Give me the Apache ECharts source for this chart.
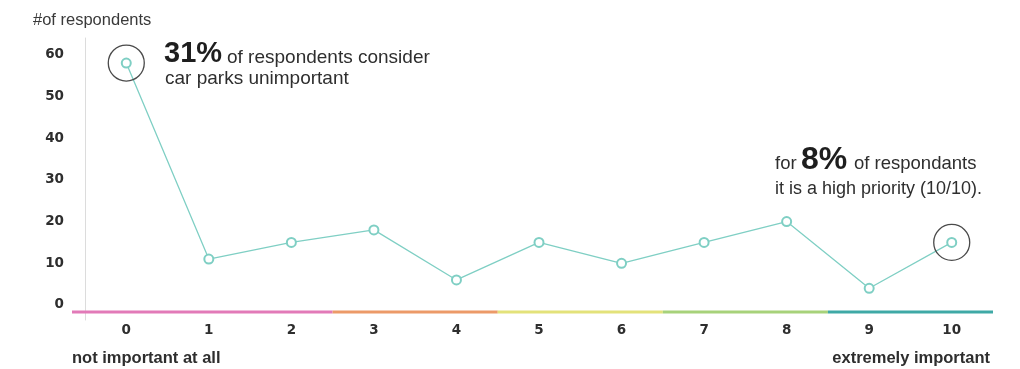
<!DOCTYPE html>
<html>
<head>
<meta charset="utf-8">
<script src="https://cdn.jsdelivr.net/npm/echarts@6/dist/echarts.min.js"></script>
<style>
  html, body { margin: 0; padding: 0; background: #fff; }
  #chart { width: 1020px; height: 369px; }
</style>
</head>
<body>
<div id="chart"></div>
<script>
// Importance ratings (0 = not important at all, 10 = extremely important)
const categories = ['0', '1', '2', '3', '4', '5', '6', '7', '8', '9', '10'];
const respondents = [58, 11, 15, 18, 6, 15, 10, 15, 20, 4, 15];
const yTicks = [0, 10, 20, 30, 40, 50, 60];
// Coloured scale bands under the axis: [first rating, last rating]
const bandRanges = [[0, 2], [3, 4], [5, 6], [7, 8], [9, 10]];
const bandColors = ['#e27ab8', '#ec9a68', '#e3e27a', '#a7d27a', '#3fa9a6'];
// Ratings that get a highlight ring
const highlighted = [0, 10];

const textColor = '#2e2e2e';
const lineColor = '#7fcfc4';
const bodyFont = '18.5px "Liberation Sans"';

const chart = echarts.init(document.getElementById('chart'), null, { renderer: 'canvas' });

const bandData = bandRanges.map((r, i) => ({ value: [r[0], r[1]], itemStyle: { color: bandColors[i] } }));

chart.setOption({
  animation: false,
  backgroundColor: '#fff',
  grid: { left: 85, right: 27, top: 38, bottom: 49 },
  xAxis: {
    type: 'category',
    data: categories,
    boundaryGap: true,
    axisLine: { show: false },
    axisTick: { show: false },
    axisLabel: {
      margin: 3,
      color: textColor,
      fontFamily: 'DejaVu Sans',
      fontWeight: 'bold',
      fontSize: 13.5
    }
  },
  yAxis: {
    type: 'value',
    min: -3.6,
    max: 64,
    splitLine: { show: false },
    axisTick: { show: false },
    axisLine: { show: true, lineStyle: { color: '#dcdcdc', width: 1 } },
    axisLabel: {
      customValues: yTicks,
      margin: 21,
      color: textColor,
      fontFamily: 'DejaVu Sans',
      fontWeight: 'bold',
      fontSize: 13.5
    }
  },
  series: [
    {
      // coloured rating scale drawn just below the zero level
      type: 'custom',
      silent: true,
      z: 1,
      clip: false,
      data: bandData,
      renderItem: function (params, api) {
        const bw = api.size([1, 0])[0];
        const s = api.value(0), e = api.value(1);
        const y = api.coord([0, 0])[1] + 7;
        let x1 = api.coord([s, 0])[0] - bw / 2;
        const x2 = api.coord([e, 0])[0] + bw / 2;
        if (params.dataIndex === 0) x1 -= 13;
        return {
          type: 'line',
          shape: { x1: x1, y1: y, x2: x2, y2: y },
          style: { stroke: api.visual('color'), lineWidth: 3 }
        };
      }
    },
    {
      type: 'line',
      data: respondents,
      z: 3,
      symbol: 'emptyCircle',
      symbolSize: 9,
      lineStyle: { color: lineColor, width: 1.3 },
      itemStyle: { color: lineColor, borderColor: lineColor, borderWidth: 1.3 },
      markPoint: {
        symbol: 'circle',
        symbolSize: 36,
        silent: true,
        label: { show: false },
        itemStyle: { color: 'rgba(0,0,0,0)', borderColor: '#4a4a4a', borderWidth: 1.3 },
        data: highlighted.map(i => ({ coord: [categories[i], respondents[i]] }))
      }
    }
  ],
  graphic: [
    { type: 'text', x: 33, y: 20, style: { text: '#of respondents', font: '16.5px "Liberation Sans"', fill: '#3a3a3a', verticalAlign: 'middle' } },

    { type: 'text', x: 164, y: 54, style: { text: '31%', font: 'bold 29px "Liberation Sans"', fill: '#1e1e1e', verticalAlign: 'middle' } },
    { type: 'text', x: 227, y: 58, style: { text: 'of respondents consider', font: '19px "Liberation Sans"', fill: textColor, verticalAlign: 'middle' } },
    { type: 'text', x: 165, y: 79, style: { text: 'car parks unimportant', font: '19px "Liberation Sans"', fill: textColor, verticalAlign: 'middle' } },

    { type: 'text', x: 775, y: 164, style: { text: 'for', font: bodyFont, fill: textColor, verticalAlign: 'middle' } },
    { type: 'text', x: 801, y: 160, style: { text: '8%', font: 'bold 32px "Liberation Sans"', fill: '#1e1e1e', verticalAlign: 'middle' } },
    { type: 'text', x: 854, y: 164, style: { text: 'of respondants', font: bodyFont, fill: textColor, verticalAlign: 'middle' } },
    { type: 'text', x: 775, y: 189, style: { text: 'it is a high priority (10/10).', font: '18px "Liberation Sans"', fill: textColor, verticalAlign: 'middle' } },

    { type: 'text', x: 72, y: 358, style: { text: 'not important at all', font: 'bold 16.5px "Liberation Sans"', fill: textColor, verticalAlign: 'middle' } },
    { type: 'text', x: 990, y: 358, style: { text: 'extremely important', font: 'bold 16.5px "Liberation Sans"', fill: textColor, align: 'right', verticalAlign: 'middle' } }
  ]
});
</script>
</body>
</html>
